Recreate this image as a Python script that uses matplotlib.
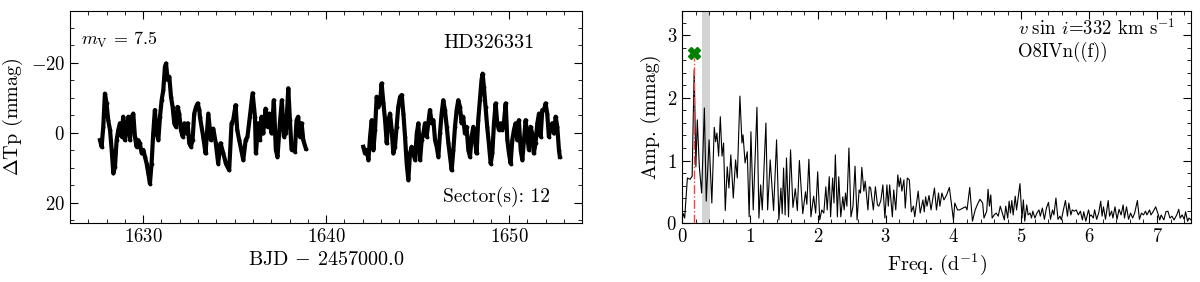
#!/usr/bin/env python3
"""
TESS light curve (sector 12) and amplitude spectrum for HD326331.
Writes out.png
"""
import matplotlib
matplotlib.use("Agg")
import matplotlib.pyplot as plt
from matplotlib.ticker import MultipleLocator

# light curve, sector 12, first orbit (BJD - 2457000, mmag)
t_orbit1 = [1627.64, 1627.73, 1627.82, 1627.91, 1628.00, 1628.09, 1628.19, 1628.28, 1628.37, 1628.46,
            1628.55, 1628.64, 1628.73, 1628.82, 1628.91, 1629.00, 1629.10, 1629.19, 1629.28, 1629.37,
            1629.46, 1629.55, 1629.64, 1629.73, 1629.82, 1629.92, 1630.01, 1630.10, 1630.19, 1630.28,
            1630.37, 1630.46, 1630.55, 1630.64, 1630.74, 1630.83, 1630.92, 1631.01, 1631.10, 1631.19,
            1631.25, 1631.34, 1631.43, 1631.52, 1631.61, 1631.70, 1631.79, 1631.88, 1631.97, 1632.06,
            1632.16, 1632.25, 1632.34, 1632.43, 1632.52, 1632.61, 1632.70, 1632.79, 1632.89, 1632.98,
            1633.07, 1633.10, 1633.28, 1633.41, 1633.56, 1633.70, 1633.83, 1633.97, 1634.10, 1634.23,
            1634.38, 1634.52, 1634.70, 1634.83, 1634.92, 1635.05, 1635.14, 1635.25, 1635.36, 1635.47,
            1635.60, 1635.70, 1635.83, 1635.98, 1636.11, 1636.16, 1636.29, 1636.38, 1636.47, 1636.56,
            1636.69, 1636.80, 1636.89, 1637.02, 1637.14, 1637.25, 1637.34, 1637.47, 1637.58, 1637.69,
            1637.80, 1637.93, 1638.02, 1638.11, 1638.20, 1638.29, 1638.38, 1638.47, 1638.56, 1638.66,
            1638.75, 1638.89]
dm_orbit1 = [2.1, 4.0, -1.7, -11.2, -8.4, -3.6, -0.8, 4.9, 11.6, 9.7,
             2.1, -0.8, -2.7, 1.1, -4.6, 2.1, -1.7, -4.6, 2.1, -4.6,
             -5.5, 1.1, 4.0, 2.1, 3.0, 5.9, 4.9, 6.9, 8.8, 11.6,
             14.5, 8.8, 0.2, -6.5, 0.2, 2.1, -4.6, -9.3, -12.2, -18.9,
             -19.8, -15.1, -16.0, -10.3, -7.4, -2.7, -1.7, -7.4, -5.5, -0.8,
             1.1, -2.7, 0.2, -2.7, 3.0, 4.0, 2.1, -5.5, -7.4, -8.4,
             -6.5, -4.6, 1.1, 5.9, -5.5, 2.1, -1.2, 3.0, 8.8, 3.0,
             5.9, 8.8, 10.7, -2.7, -3.6, -7.9, -0.8, 2.1, 4.9, 7.8,
             2.1, 1.1, -4.6, -11.3, -4.6, 5.9, -2.7, 2.1, -4.6, 0.2,
             -6.9, -1.7, -5.5, 0.2, -9.3, 4.9, 6.9, -2.7, -9.3, 1.1,
             0.2, -12.7, -3.6, 4.9, 4.0, 5.4, -3.6, -4.6, 1.1, -2.7,
             2.1, 4.5]

# second orbit
t_orbit2 = [1642.03, 1642.12, 1642.21, 1642.31, 1642.40, 1642.49, 1642.58, 1642.67, 1642.76, 1642.85,
            1642.94, 1643.03, 1643.13, 1643.22, 1643.31, 1643.40, 1643.49, 1643.58, 1643.67, 1643.76,
            1643.85, 1643.94, 1644.04, 1644.13, 1644.22, 1644.31, 1644.40, 1644.49, 1644.58, 1644.67,
            1644.76, 1644.86, 1644.95, 1645.04, 1645.13, 1645.22, 1645.31, 1645.40, 1645.49, 1645.58,
            1645.67, 1645.77, 1645.86, 1645.95, 1646.04, 1646.13, 1646.22, 1646.31, 1646.40, 1646.49,
            1646.59, 1646.68, 1646.77, 1646.86, 1646.95, 1647.04, 1647.13, 1647.22, 1647.31, 1647.40,
            1647.49, 1647.58, 1647.67, 1647.77, 1647.86, 1647.95, 1648.04, 1648.13, 1648.22, 1648.31,
            1648.40, 1648.49, 1648.55, 1648.62, 1648.71, 1648.80, 1648.89, 1648.99, 1649.08, 1649.17,
            1649.26, 1649.35, 1649.44, 1649.53, 1649.62, 1649.71, 1649.81, 1649.90, 1649.99, 1650.08,
            1650.17, 1650.26, 1650.35, 1650.44, 1650.53, 1650.63, 1650.72, 1650.81, 1650.90, 1650.99,
            1651.08, 1651.17, 1651.26, 1651.35, 1651.44, 1651.54, 1651.63, 1651.72, 1651.81, 1651.90,
            1651.99, 1652.08, 1652.17, 1652.26, 1652.35, 1652.45, 1652.54, 1652.63, 1652.72, 1652.77]
dm_orbit2 = [4.0, 5.9, 4.9, 7.8, 1.1, -3.6, 4.9, -0.8, -10.3, -7.4,
             -8.4, -14.1, -8.4, -3.6, 3.0, -3.6, -5.5, -0.8, 5.9, 4.0,
             -1.7, -7.4, -10.3, -10.8, -5.5, 1.1, 8.8, 13.5, 5.9, 4.0,
             5.9, 7.8, 0.2, -2.7, 7.8, 2.1, 0.2, -2.7, 1.1, -2.7,
             -6.5, -2.7, -3.6, 2.1, 4.0, 6.9, 0.2, -5.5, -9.3, -6.5,
             -1.7, 3.0, 6.9, 10.7, 4.9, -1.7, -6.5, -9.3, -7.4, -2.7,
             -4.6, 0.2, -1.7, 4.9, 6.9, 1.1, -1.7, 2.1, 5.9, -3.6,
             -9.3, -15.1, -16.9, -13.1, -7.4, -1.7, 3.0, 8.8, 5.9, -2.7,
             -8.4, -2.7, -0.8, -2.7, -0.8, -2.7, -8.4, 2.1, 5.9, 8.8,
             2.1, -0.8, -2.7, 2.1, -3.6, 4.9, 7.8, 2.1, -3.6, 1.1,
             4.9, -1.7, 0.2, 5.9, 3.0, -2.7, -5.5, 1.1, -6.5, -6.5,
             -8.4, -5.5, 1.1, -1.7, -2.7, 0.2, -4.6, -1.7, 4.9, 6.9]

# amplitude spectrum (d^-1, mmag)
freq = [0.0, 0.02, 0.04, 0.08, 0.12, 0.15, 0.18, 0.205, 0.226, 0.256,
        0.29, 0.33, 0.358, 0.40, 0.44, 0.476, 0.496, 0.515, 0.54, 0.565,
        0.59, 0.613, 0.638, 0.667, 0.692, 0.72, 0.756, 0.79, 0.815, 0.854,
        0.884, 0.90, 0.93, 0.962, 0.99, 1.016, 1.05, 1.105, 1.134, 1.159,
        1.183, 1.237, 1.262, 1.30, 1.35, 1.394, 1.428, 1.458, 1.477, 1.497,
        1.52, 1.54, 1.57, 1.60, 1.635, 1.67, 1.70, 1.73, 1.78, 1.82,
        1.84, 1.87, 1.90, 1.94, 1.97, 2.0, 2.03, 2.06, 2.09, 2.12,
        2.14, 2.17, 2.19, 2.22, 2.24, 2.26, 2.29, 2.31, 2.34, 2.37,
        2.39, 2.41, 2.43, 2.46, 2.49, 2.52, 2.55, 2.58, 2.61, 2.63,
        2.65, 2.68, 2.70, 2.74, 2.76, 2.78, 2.82, 2.85, 2.88, 2.90,
        2.93, 2.96, 2.99, 3.02, 3.04, 3.06, 3.10, 3.12, 3.15, 3.18,
        3.20, 3.22, 3.24, 3.27, 3.29, 3.32, 3.35, 3.38, 3.41, 3.43,
        3.48, 3.51, 3.55, 3.57, 3.59, 3.61, 3.64, 3.67, 3.72, 3.75,
        3.78, 3.80, 3.83, 3.86, 3.90, 3.94, 4.00, 4.02, 4.06, 4.09,
        4.14, 4.18, 4.20, 4.24, 4.28, 4.32, 4.35, 4.39, 4.43, 4.45,
        4.49, 4.51, 4.53, 4.55, 4.57, 4.60, 4.63, 4.66, 4.69, 4.72,
        4.75, 4.77, 4.80, 4.82, 4.84, 4.86, 4.88, 4.91, 4.93, 4.98,
        5.01, 5.03, 5.05, 5.08, 5.10, 5.13, 5.15, 5.17, 5.20, 5.23,
        5.26, 5.28, 5.31, 5.34, 5.37, 5.40, 5.43, 5.46, 5.48, 5.51,
        5.54, 5.57, 5.59, 5.62, 5.65, 5.68, 5.70, 5.73, 5.75, 5.78,
        5.81, 5.84, 5.87, 5.90, 5.92, 5.95, 5.99, 6.01, 6.03, 6.06,
        6.08, 6.11, 6.14, 6.17, 6.19, 6.21, 6.24, 6.28, 6.30, 6.33,
        6.35, 6.38, 6.41, 6.44, 6.47, 6.50, 6.52, 6.55, 6.58, 6.61,
        6.64, 6.67, 6.71, 6.74, 6.77, 6.80, 6.83, 6.85, 6.89, 6.91,
        6.94, 6.98, 7.01, 7.04, 7.06, 7.10, 7.13, 7.16, 7.19, 7.22,
        7.25, 7.29, 7.32, 7.34, 7.37, 7.40, 7.42, 7.45, 7.47, 7.50]
amp = [0.05, 0.15, 0.08, 0.72, 0.70, 0.75, 2.45, 0.90, 1.65, 0.90,
       0.48, 1.84, 0.35, 1.33, 0.32, 1.53, 1.30, 1.44, 1.07, 1.70,
       1.07, 1.28, 0.20, 0.90, 0.56, 1.09, 0.40, 1.01, 0.72, 2.03,
       1.28, 1.41, 0.96, 1.14, 0.10, 1.46, 0.21, 1.85, 0.08, 0.61,
       0.21, 1.60, 0.21, 1.01, 0.20, 1.33, 0.05, 0.56, 0.15, 0.88,
       0.13, 1.04, 0.10, 1.17, 0.25, 0.55, 0.20, 1.00, 0.15, 0.50,
       0.30, 1.02, 0.10, 0.43, 0.16, 0.82, 0.05, 0.21, 0.16, 0.58,
       0.21, 0.74, 0.10, 0.72, 0.32, 1.09, 0.10, 0.74, 0.10, 0.42,
       0.21, 0.48, 0.27, 1.20, 0.10, 0.27, 0.91, 0.05, 0.53, 0.48,
       0.89, 0.51, 0.67, 0.21, 0.58, 0.56, 0.21, 0.58, 0.29, 0.27,
       0.36, 0.61, 0.08, 0.61, 0.27, 0.61, 0.10, 0.53, 0.21, 0.77,
       0.58, 0.72, 0.51, 0.69, 0.24, 0.72, 0.69, 0.18, 0.27, 0.10,
       0.51, 0.16, 0.37, 0.18, 0.42, 0.27, 0.44, 0.21, 0.56, 0.21,
       0.48, 0.27, 0.48, 0.37, 0.45, 0.57, 0.05, 0.32, 0.21, 0.21,
       0.24, 0.26, 0.21, 0.57, 0.03, 0.21, 0.29, 0.38, 0.32, 0.08,
       0.19, 0.54, 0.27, 0.45, 0.08, 0.13, 0.16, 0.11, 0.27, 0.16,
       0.05, 0.27, 0.08, 0.35, 0.16, 0.36, 0.13, 0.43, 0.21, 0.63,
       0.08, 0.37, 0.03, 0.29, 0.13, 0.16, 0.08, 0.19, 0.08, 0.16,
       0.21, 0.11, 0.24, 0.06, 0.24, 0.33, 0.06, 0.21, 0.13, 0.40,
       0.06, 0.11, 0.05, 0.21, 0.36, 0.11, 0.32, 0.13, 0.21, 0.19,
       0.21, 0.13, 0.19, 0.05, 0.18, 0.03, 0.21, 0.11, 0.13, 0.08,
       0.21, 0.06, 0.16, 0.35, 0.11, 0.26, 0.06, 0.36, 0.11, 0.19,
       0.08, 0.26, 0.06, 0.22, 0.13, 0.29, 0.08, 0.26, 0.06, 0.16,
       0.08, 0.16, 0.36, 0.06, 0.16, 0.13, 0.19, 0.13, 0.21, 0.13,
       0.18, 0.26, 0.16, 0.05, 0.13, 0.05, 0.18, 0.19, 0.08, 0.11,
       0.05, 0.13, 0.22, 0.08, 0.13, 0.06, 0.18, 0.03, 0.08, 0.05]

f_rot = 0.18          # marked frequency (d^-1)
f_rot_amp = 2.72      # height of the cross marker
band = (0.30, 0.41)   # shaded frequency range

star = "HD326331"
vmag = 7.5
sectors = "12"
vsini = 332
sptype = "O8IVn((f))"


def style_axis(ax):
    ax.tick_params(which="both", direction="in", top=True, right=True, labelsize=13.5)
    ax.tick_params(which="major", length=5.5, width=0.8)
    ax.tick_params(which="minor", length=2.8, width=0.6)


def main():
    plt.rcParams.update({
        "font.family": "serif",
        "font.serif": ["cmr10"],
        "mathtext.fontset": "cm",
        "axes.unicode_minus": False,
        "axes.formatter.use_mathtext": True,
    })

    fig = plt.figure(figsize=(12, 2.82), dpi=100)
    ax1 = fig.add_axes([0.0583, 0.209, 0.427, 0.752])
    ax2 = fig.add_axes([0.5683, 0.209, 0.4242, 0.752])

    # light curve
    for t, dm in ((t_orbit1, dm_orbit1), (t_orbit2, dm_orbit2)):
        ax1.plot(t, dm, color="k", lw=3.0, solid_joinstyle="round")
        ax1.plot(t, dm, "k.", ms=3.5)
    ax1.set_xlim(1626, 1654)
    ax1.set_ylim(25.8, -34.8)
    ax1.xaxis.set_major_locator(MultipleLocator(10))
    ax1.xaxis.set_minor_locator(MultipleLocator(1))
    ax1.yaxis.set_major_locator(MultipleLocator(20))
    ax1.yaxis.set_minor_locator(MultipleLocator(5))
    ax1.set_xlabel(r"BJD $-$ 2457000.0", fontsize=14.5)
    ax1.set_ylabel(r"$\Delta$Tp (mmag)", fontsize=14.5)
    ax1.text(0.021, 0.863, r"$m_{\rm V}$ = %.1f" % vmag, transform=ax1.transAxes,
             fontsize=13, va="center", ha="left")
    ax1.text(0.728, 0.85, star, transform=ax1.transAxes, fontsize=14.5, va="center", ha="left")
    ax1.text(0.728, 0.123, "Sector(s): " + sectors, transform=ax1.transAxes,
             fontsize=14, va="center", ha="left")
    style_axis(ax1)

    # amplitude spectrum
    ax2.axvspan(band[0], band[1], color="lightgray", lw=0)
    ax2.plot(freq, amp, color="k", lw=0.8)
    ax2.plot([f_rot, f_rot], [0, f_rot_amp - 0.08], color="#ff4040", ls="-.", lw=1.0)
    ax2.plot(f_rot, f_rot_amp, marker="X", color="green", ms=9, mec="green")
    ax2.set_xlim(0, 7.5)
    ax2.set_ylim(0, 3.39)
    ax2.xaxis.set_major_locator(MultipleLocator(1))
    ax2.xaxis.set_minor_locator(MultipleLocator(0.2))
    ax2.yaxis.set_major_locator(MultipleLocator(1))
    ax2.yaxis.set_minor_locator(MultipleLocator(0.2))
    ax2.set_xlabel(r"Freq. (d$^{-1}$)", fontsize=14.5)
    ax2.set_ylabel("Amp. (mmag)", fontsize=14.5)
    ax2.text(0.66, 0.918, r"$v\;\sin\;i$=%d km s$^{-1}$" % vsini, transform=ax2.transAxes,
             fontsize=13.5, va="center", ha="left")
    ax2.text(0.66, 0.805, sptype, transform=ax2.transAxes, fontsize=13.5, va="center", ha="left")
    style_axis(ax2)

    fig.savefig("out.png", dpi=100)
    plt.close(fig)


if __name__ == "__main__":
    main()
